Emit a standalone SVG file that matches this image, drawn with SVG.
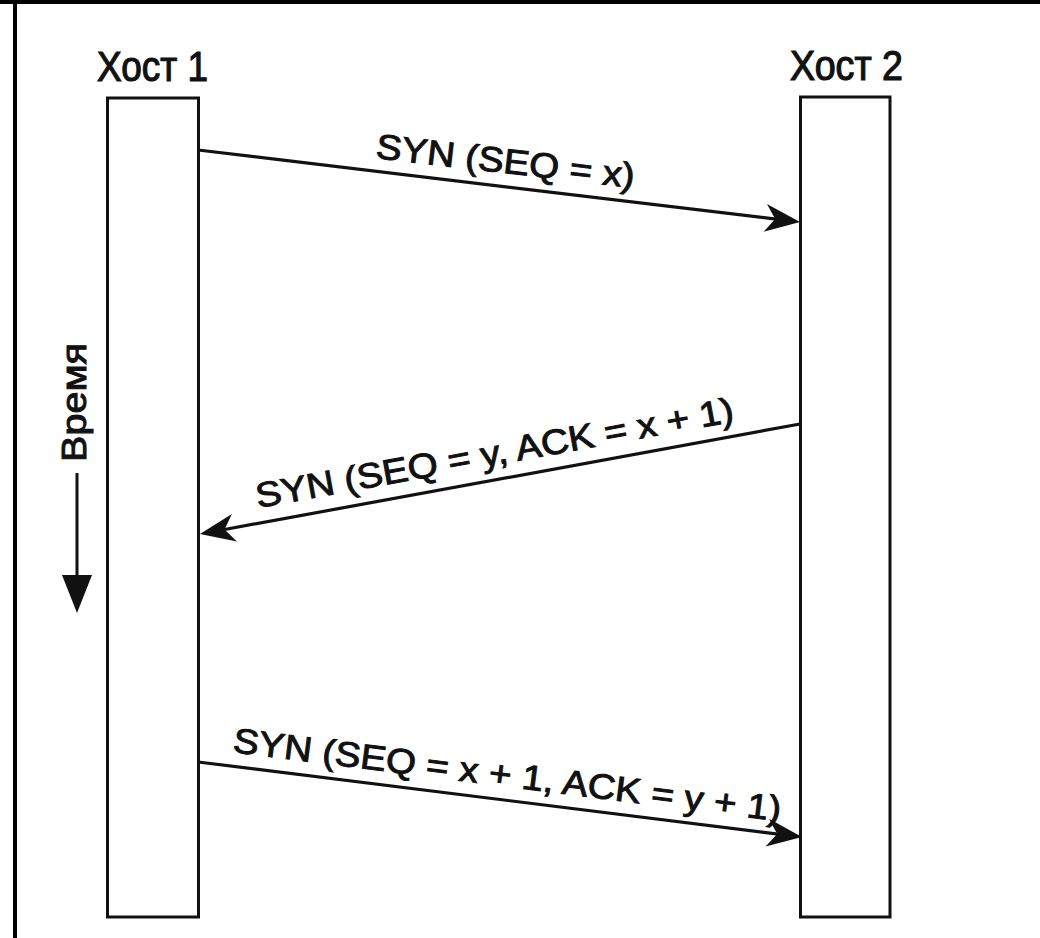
<svg xmlns="http://www.w3.org/2000/svg" width="1040" height="938" viewBox="0 0 1040 938">
  <style>
    .frame { fill: #000; }
    .host { fill: #fff; stroke: #111; stroke-width: 3; }
    .hostlabel { font-family: "Liberation Sans", Arial, sans-serif; font-size: 42px; fill: #111; stroke: #111; stroke-width: 1.2; }
    .msg { fill: none; stroke: #111; stroke-width: 3.2; marker-end: url(#head); }
    .msglabel { font-family: "Liberation Sans", Arial, sans-serif; font-size: 35px; fill: #111; stroke: #111; stroke-width: 1; }
  </style>
  <defs>
    <marker id="head" markerUnits="userSpaceOnUse" viewBox="-26 -16 38 32" refX="0" refY="0" markerWidth="38" markerHeight="32" orient="auto">
      <path d="M10,0 L-25,-14 L-15,0 L-25,14 Z" fill="#111"/>
    </marker>
    <marker id="timehead" markerUnits="userSpaceOnUse" viewBox="-30 -17 42 34" refX="0" refY="0" markerWidth="42" markerHeight="34" orient="auto">
      <path d="M10,0 L-28,-15 L-28,15 Z" fill="#111"/>
    </marker>
  </defs>
  <rect width="1040" height="938" fill="#fff"/>
  <g id="frame">
    <rect class="frame" x="0" y="0" width="1040" height="4"/>
    <rect class="frame" x="13" y="0" width="4" height="938"/>
  </g>
  <g id="host1">
    <rect class="host" x="107.5" y="98" width="91" height="819"/>
    <text class="hostlabel" x="97" y="81" textLength="111" lengthAdjust="spacingAndGlyphs">Хост 1</text>
  </g>
  <g id="host2">
    <rect class="host" x="800.5" y="97" width="89.5" height="820"/>
    <text class="hostlabel" x="790" y="80" textLength="113" lengthAdjust="spacingAndGlyphs">Хост 2</text>
  </g>
  <g id="time">
    <line x1="77" y1="473" x2="77" y2="603" stroke="#111" stroke-width="3" marker-end="url(#timehead)"/>
    <text class="msglabel" transform="translate(86,462) rotate(-90)" font-size="37" textLength="119" lengthAdjust="spacingAndGlyphs">Время</text>
  </g>
  <g id="connectors">
    <line class="msg" x1="198" y1="150" x2="790.1" y2="220.8"/>
    <line class="msg" x1="800" y1="424" x2="209.8" y2="532.2"/>
    <line class="msg" x1="198" y1="762" x2="792.1" y2="835.8"/>
  </g>
  <g id="labels">
    <text class="msglabel" transform="translate(375,158) rotate(6.6)" textLength="260" lengthAdjust="spacingAndGlyphs">SYN (SEQ = x)</text>
    <text class="msglabel" transform="translate(258,508) rotate(-10.3)" textLength="485" lengthAdjust="spacingAndGlyphs">SYN (SEQ = y, ACK = x + 1)</text>
    <text class="msglabel" transform="translate(232,752) rotate(7.2)" textLength="552" lengthAdjust="spacingAndGlyphs">SYN (SEQ = x + 1, ACK = y + 1)</text>
  </g>
</svg>
